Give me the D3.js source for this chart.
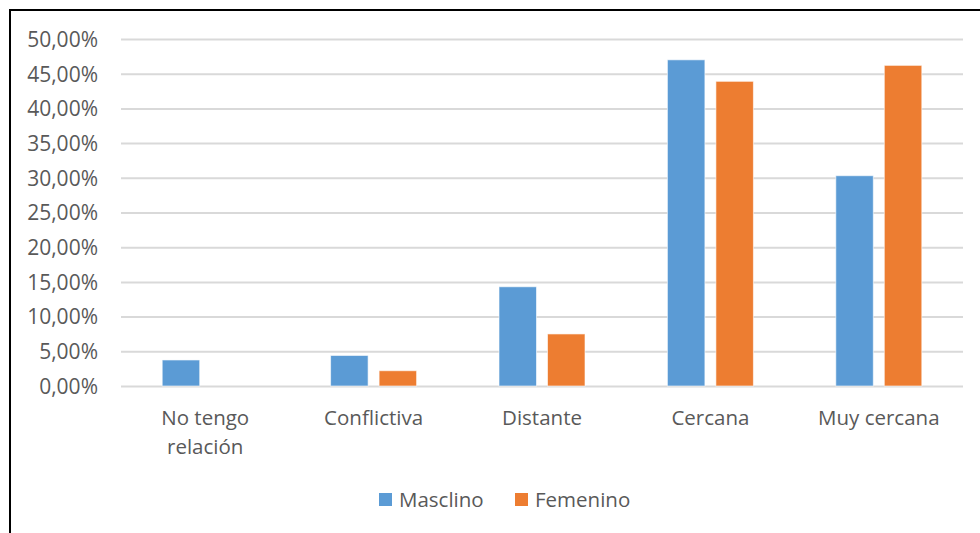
<!DOCTYPE html>
<html><head><meta charset="utf-8">
<script src="https://cdn.jsdelivr.net/npm/d3@7"></script>
<style>body{margin:0;background:#fff}svg{display:block}text{font-family:"Open Sans",sans-serif;fill:#595959}</style>
</head><body><svg id="c" width="980" height="533"></svg>
<script>
const categories = [["No tengo","relación"],["Conflictiva"],["Distante"],["Cercana"],["Muy cercana"]];
const seriesNames = ["Masclino","Femenino"];
const masculino = [3.75, 4.4, 14.3, 47.0, 30.3];
const femenino = [0, 2.2, 7.5, 43.9, 46.2];
const yTicks = [0,5,10,15,20,25,30,35,40,45,50];
const colors = ["#5B9BD5","#ED7D31"];

const svg = d3.select("#c");
svg.append("rect").attr("x",10).attr("y",10).attr("width",1000).attr("height",600)
  .attr("fill","#fff").attr("stroke","#000").attr("stroke-width",2);

const x = d3.scaleBand().domain(d3.range(categories.length)).range([121,963]);
const y = d3.scaleLinear().domain([0,50]).range([386,39]);
const fmt = v => d3.format(".2f")(v).replace(".",",")+"%";

const yAxis = svg.append("g").attr("transform","translate(121,0)")
  .call(d3.axisLeft(y).tickValues(yTicks).tickSize(-842).tickFormat(fmt));
yAxis.select(".domain").remove();
yAxis.selectAll(".tick line").attr("stroke","#d9d9d9").attr("stroke-width",2);
yAxis.selectAll(".tick text").attr("x",-23).attr("dy","0.35em").style("font-size","21px").attr("fill","#595959");

const xAxis = svg.append("g").attr("transform","translate(0,386)")
  .call(d3.axisBottom(x).tickSize(0).tickFormat(""));
xAxis.select(".domain").remove();
xAxis.selectAll(".tick").each(function(d){
  const t = d3.select(this).append("text").attr("text-anchor","middle").attr("y",39).style("font-size","20.5px").attr("fill","#595959");
  categories[d].forEach((line,i)=>t.append("tspan").attr("x",0).attr("dy", i===0?0:29).text(line));
});

const sub = d3.scaleBand().domain([0,1]).range([-43,43]).paddingInner(0.2268).paddingOuter(0);
const data = [masculino, femenino];
data.forEach((vals,s)=>{
  svg.append("g").selectAll("rect").data(vals).join("rect")
    .attr("x",(v,i)=>x(i)+x.bandwidth()/2+sub(s)).attr("width",sub.bandwidth())
    .attr("y",v=>y(v)).attr("height",v=>y(0)-y(v))
    .attr("fill",colors[s]).attr("stroke","#fff").attr("stroke-opacity",0.6).attr("stroke-width",1);
});

const leg = svg.append("g");
const legX = [379,515];
seriesNames.forEach((n,i)=>{
  leg.append("rect").attr("x",legX[i]).attr("y",493).attr("width",13).attr("height",13).attr("fill",colors[i]);
  leg.append("text").attr("x",legX[i]+20).attr("y",500).attr("dy","0.35em").style("font-size","20.5px").attr("fill","#595959").text(n);
});
</script></body></html>
